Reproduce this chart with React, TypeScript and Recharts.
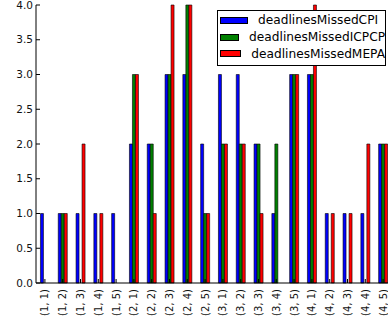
import * as React from 'react'
import { BarChart, Bar, XAxis, YAxis, Legend } from 'recharts'

const categories = [
  '(1, 1)', '(1, 2)', '(1, 3)', '(1, 4)', '(1, 5)',
  '(2, 1)', '(2, 2)', '(2, 3)', '(2, 4)', '(2, 5)',
  '(3, 1)', '(3, 2)', '(3, 3)', '(3, 4)', '(3, 5)',
  '(4, 1)', '(4, 2)', '(4, 3)', '(4, 4)', '(4, 5)',
]
const missedCPI = [1, 1, 1, 1, 1, 2, 2, 3, 3, 2, 3, 3, 2, 1, 3, 3, 1, 1, 1, 2]
const missedICPCP = [0, 1, 0, 0, 0, 3, 2, 3, 4, 1, 2, 2, 2, 2, 3, 3, 0, 0, 0, 2]
const missedMEPA = [0, 1, 2, 1, 0, 3, 1, 4, 4, 1, 2, 2, 1, 0, 3, 4, 1, 1, 2, 2]
const yTicks = [0, 0.5, 1, 1.5, 2, 2.5, 3, 3.5, 4]

const series = [
  { key: 'deadlinesMissedCPI', color: '#0000ff' },
  { key: 'deadlinesMissedICPCP', color: '#008000' },
  { key: 'deadlinesMissedMEPA', color: '#ff0000' },
]

const data = categories.map((cat, i) => ({
  cat,
  deadlinesMissedCPI: missedCPI[i],
  deadlinesMissedICPCP: missedICPCP[i],
  deadlinesMissedMEPA: missedMEPA[i],
}))

const PLOT_LEFT = 36
const PLOT_TOP = 5
const PLOT_BOTTOM = 283
const FONT = '"DejaVu Sans", sans-serif'

const YTick = (props: any) => {
  const { y, payload } = props
  return (
    <g>
      <line x1={PLOT_LEFT} x2={PLOT_LEFT + 4} y1={y} y2={y} stroke="#000" />
      <text x={PLOT_LEFT - 3} y={y} dy="0.35em" textAnchor="end" fontSize={10.5} fill="#111" fontFamily={FONT}>
        {payload.value.toFixed(1)}
      </text>
    </g>
  )
}

const XTick = (props: any) => {
  const { x, payload } = props
  const ty = PLOT_BOTTOM + 6
  return (
    <g>
      <line x1={x} x2={x} y1={PLOT_BOTTOM} y2={PLOT_BOTTOM - 4} stroke="#000" />
      <text x={x} y={ty} dy="0.35em" textAnchor="end" transform={`rotate(-90, ${x}, ${ty})`}
        fontSize={10} fill="#111" fontFamily={FONT}>
        {payload.value}
      </text>
    </g>
  )
}

const TopTick = (props: any) => {
  const { x } = props
  return <line x1={x} x2={x} y1={PLOT_TOP} y2={PLOT_TOP + 4} stroke="#000" />
}

const LegendBox = () => (
  <div style={{ border: '1px solid #000', background: '#fff', padding: '1px 0 3px 0', boxSizing: 'border-box', width: 169, fontFamily: FONT }}>
    {series.map(s => (
      <div key={s.key} style={{ display: 'flex', alignItems: 'center', height: 16.7 }}>
        <div style={{ marginLeft: 2, width: 28, height: 7, background: s.color, border: '1px solid #000', boxSizing: 'border-box' }} />
        <span style={{ marginLeft: 10, fontSize: 12.2, color: '#000', whiteSpace: 'nowrap' }}>{s.key}</span>
      </div>
    ))}
  </div>
)

export default function App() {
  return (
    <div style={{ position: 'absolute', left: 0, top: 0, width: 388, height: 321, overflow: 'hidden', background: '#fff' }}>
      <BarChart
        width={400}
        height={321}
        data={data}
        margin={{ top: PLOT_TOP, right: 8, left: 0, bottom: 0 }}
        barCategoryGap="25%"
        barGap={0}
      >
        <XAxis dataKey="cat" height={321 - PLOT_BOTTOM} interval={0} tickLine={false}
          axisLine={{ stroke: '#000' }} tick={<XTick />} />
        <XAxis dataKey="cat" xAxisId="top" orientation="top" height={0} interval={0} tickLine={false}
          axisLine={{ stroke: '#000' }} tick={<TopTick />} />
        <YAxis width={PLOT_LEFT} domain={[0, 4]} ticks={yTicks} interval={0} tickLine={false}
          axisLine={{ stroke: '#000' }} tick={<YTick />} />
        <Legend layout="vertical" align="center" verticalAlign="middle" content={<LegendBox />}
          wrapperStyle={{ top: 10, left: 217, width: 169 }} />
        {series.map(s => (
          <Bar key={s.key} dataKey={s.key} fill={s.color} stroke="#000" strokeWidth={0.6} isAnimationActive={false} />
        ))}
      </BarChart>
    </div>
  )
}
